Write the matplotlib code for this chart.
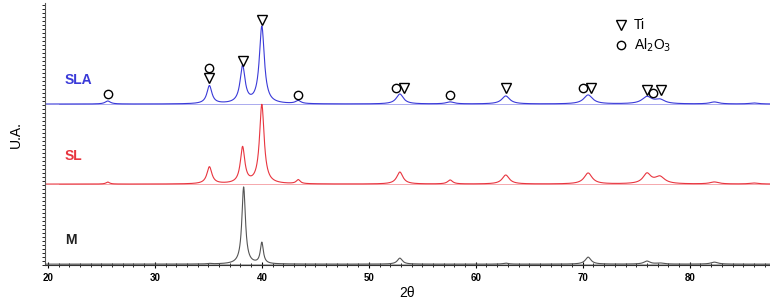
import numpy as np
import matplotlib
matplotlib.use("Agg")
import matplotlib.pyplot as plt
from matplotlib.ticker import MultipleLocator

plt.rcParams["font.family"] = ["Liberation Sans", "DejaVu Sans"]

# peak lists: position (2theta), height, half width
sla_pos = [25.6, 35.1, 38.2, 40.0, 43.4, 52.9, 57.6, 62.8, 70.5, 76.0, 77.2, 82.3, 86.0]
sla_hgt = [3, 18, 37, 77, 3, 10, 2, 8, 9, 7, 4, 2, 1]
sla_wid = [0.3, 0.28, 0.28, 0.28, 0.3, 0.4, 0.45, 0.45, 0.5, 0.55, 0.55, 0.5, 0.5]

sl_pos = [25.6, 35.1, 38.2, 40.0, 43.4, 52.9, 57.6, 62.8, 70.5, 76.0, 77.2, 82.3, 86.0]
sl_hgt = [2, 17, 36, 79, 4, 12, 4, 9, 11, 10, 7, 2, 1]
sl_wid = [0.2, 0.28, 0.25, 0.26, 0.22, 0.35, 0.28, 0.4, 0.45, 0.45, 0.55, 0.5, 0.5]

m_pos = [35.1, 38.3, 40.0, 52.9, 62.8, 70.5, 76.0, 77.2, 82.3]
m_hgt = [0.5, 77, 21, 6, 1, 7, 3, 1, 2]
m_wid = [0.2, 0.2, 0.17, 0.28, 0.3, 0.32, 0.35, 0.4, 0.4]

offsets = {"SLA": 161, "SL": 81, "M": 1}
colors = {"SLA": "#3a3ad8", "SL": "#e8353f", "M": "#555555"}

# phase markers above SLA pattern (2theta, height in plot units)
ti_x = [35.1, 38.2, 40.0, 53.3, 62.8, 70.75, 76.0, 77.3]
ti_y = [187, 204, 245, 177, 177, 177, 175, 175]
al_x = [25.6, 35.1, 43.4, 52.55, 57.6, 70.0, 76.6]
al_y = [171, 197, 170, 177, 170, 177, 172]


def pattern(x, pos, hgt, wid):
    y = np.zeros_like(x)
    for c, h, w in zip(pos, hgt, wid):
        y += h / (1 + ((x - c) / w) ** 2)
    return y


x = np.linspace(19.7, 87.5, 4000)

fig = plt.figure(figsize=(7.7, 3.02), dpi=100)
ax = fig.add_axes([0.058, 0.122, 0.942, 0.868])

for name, pos, hgt, wid in [("SLA", sla_pos, sla_hgt, sla_wid),
                            ("SL", sl_pos, sl_hgt, sl_wid),
                            ("M", m_pos, m_hgt, m_wid)]:
    off = offsets[name]
    ax.plot(x, pattern(x, pos, hgt, wid) + off, color=colors[name], lw=0.8)
    ax.plot([21, 87.5], [off, off], color=colors[name], lw=0.5, alpha=0.6)

ax.plot(ti_x, ti_y, "v", ms=6.5, mfc="none", mec="black", mew=1.0)
ax.plot(al_x, al_y, "o", ms=6, mfc="none", mec="black", mew=1.0)

# legend drawn as text
ax.plot([73.6], [240], "v", ms=6.5, mfc="none", mec="black", mew=1.0)
ax.plot([73.6], [220], "o", ms=6, mfc="none", mec="black", mew=1.0)
ax.text(74.8, 240, "Ti", fontsize=10, va="center")
ax.text(74.8, 220, "Al$_2$O$_3$", fontsize=10, va="center")

ax.text(21.6, 185, "SLA", color=colors["SLA"], fontsize=10, fontweight="bold", va="center")
ax.text(21.6, 109, "SL", color=colors["SL"], fontsize=10, fontweight="bold", va="center")
ax.text(21.6, 25, "M", color="#222222", fontsize=10, fontweight="bold", va="center")

ax.set_xlim(19.7, 87.5)
ax.set_ylim(0, 262)
ax.xaxis.set_major_locator(MultipleLocator(10))
ax.xaxis.set_minor_locator(MultipleLocator(1))
ax.set_yticks([])
ax.yaxis.set_minor_locator(MultipleLocator(4))
ax.tick_params(axis="x", which="major", labelsize=7, length=4, width=0.8, direction="inout")
ax.tick_params(axis="x", which="minor", length=3, width=0.6, direction="inout")
ax.tick_params(axis="y", which="minor", length=2, width=0.6)
for lbl in ax.get_xticklabels():
    lbl.set_fontweight("bold")
ax.spines["top"].set_visible(False)
ax.spines["right"].set_visible(False)
ax.spines["left"].set_color("#555555")
ax.spines["bottom"].set_color("#333333")

ax.set_ylabel("U.A.", fontsize=10, labelpad=10)
ax.set_xlabel("2θ", fontsize=10, labelpad=2)

fig.savefig("out.png", dpi=100)
